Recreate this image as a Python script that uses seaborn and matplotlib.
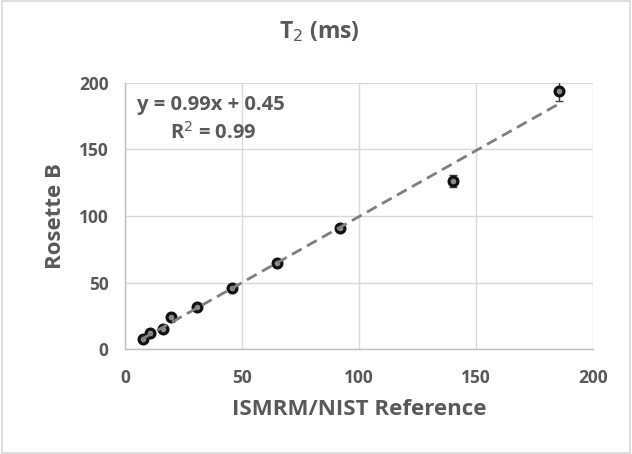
import numpy as np
import pandas as pd
import matplotlib
matplotlib.use("Agg")
import matplotlib.pyplot as plt
import seaborn as sns

# data
reference = [7.7, 10.7, 16.2, 19.7, 30.8, 45.7, 65.0, 91.9, 140.3, 185.6]
rosette_b = [7.5, 12.0, 15.0, 24.0, 31.5, 45.8, 64.6, 90.6, 126.4, 193.9]
rosette_err = [1.5, 1.5, 1.5, 1.5, 1.5, 1.5, 1.5, 2.0, 4.5, 8.0]
slope = 0.99
intercept = 0.45

sns.set_theme(style="whitegrid")
plt.rcParams["font.family"] = ["Open Sans", "DejaVu Sans"]

txt = "#595959"
grid_c = "#d9d9d9"

fig = plt.figure(figsize=(6.32, 4.54), dpi=100)
ax = fig.add_axes([0.198, 0.231, 0.740, 0.587])

df = pd.DataFrame({"ref": reference, "rb": rosette_b})

# trend line over data range
xs = np.array([min(reference) - 0.5, max(reference)])
fit = pd.DataFrame({"x": xs, "y": slope * xs + intercept})
sns.lineplot(data=fit, x="x", y="y", ax=ax, color="#7f7f7f", lw=2.0,
             linestyle=(0, (4, 2.2)), zorder=5)

ax.errorbar(reference, rosette_b, yerr=rosette_err, fmt="none", ecolor="#404040",
            elinewidth=1.0, capsize=3, capthick=1.0, zorder=3)
sns.scatterplot(data=df, x="ref", y="rb", ax=ax, s=40, color="#8c8c8c",
                edgecolor="#111111", linewidth=2.3, zorder=4)

ax.set_xlim(0, 200)
ax.set_ylim(0, 200)
ax.set_xticks([0, 50, 100, 150, 200])
ax.set_yticks([0, 50, 100, 150, 200])
ax.grid(True, color=grid_c, lw=1.0)
for side in ["top", "right"]:
    ax.spines[side].set_visible(False)
for side in ["left", "bottom"]:
    ax.spines[side].set_color("#bfbfbf")
    ax.spines[side].set_linewidth(1.0)
ax.tick_params(axis="both", colors=txt, labelsize=12.5, length=0)
ax.tick_params(axis="x", pad=14)
ax.tick_params(axis="y", pad=12)
for lab in ax.get_xticklabels() + ax.get_yticklabels():
    lab.set_fontweight("bold")

ax.set_xlabel("ISMRM/NIST Reference", fontsize=16, fontweight="bold", color=txt, labelpad=9)
ax.set_ylabel("Rosette B", fontsize=16, fontweight="bold", color=txt, labelpad=9)
fig.suptitle("T$_2$ (ms)", x=0.505, y=0.93, va="center", fontsize=16.5,
             fontweight="bold", color=txt)

ax.text(0.025, 0.915, f"y = {slope}x + {intercept}", transform=ax.transAxes,
        fontsize=14.5, fontweight="bold", color=txt, va="center")
ax.text(0.188, 0.81, "R$^2$ = 0.99", transform=ax.transAxes, ha="center",
        fontsize=14.5, fontweight="bold", color=txt, va="center")

# outer chart border
fig.patches.append(plt.Rectangle((0.003, 0.003), 0.994, 0.994, transform=fig.transFigure,
                                 fill=False, edgecolor="#d9d9d9", lw=1.2))

fig.savefig("out.png", dpi=100)
